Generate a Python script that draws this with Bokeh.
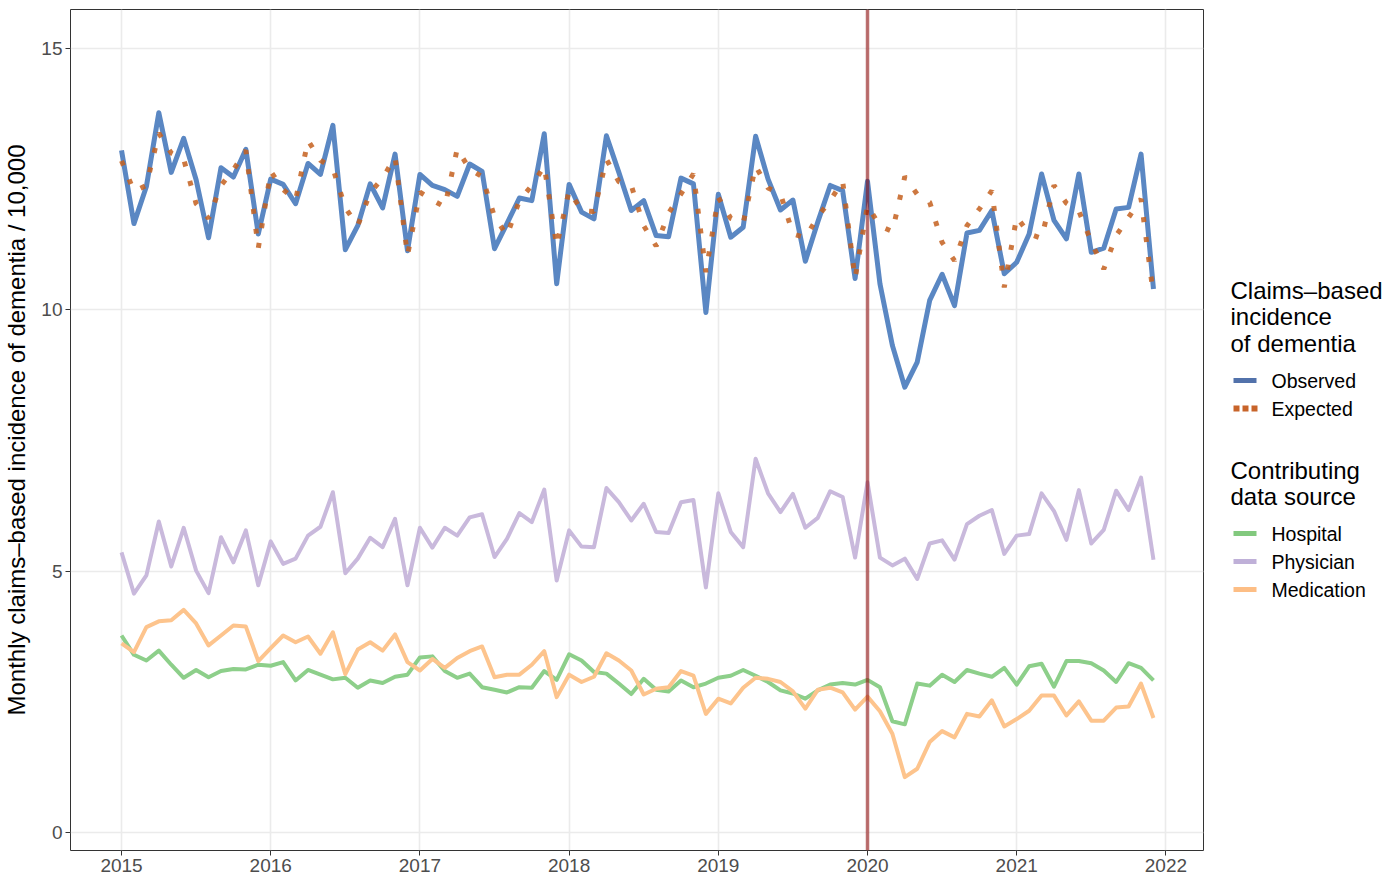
from bokeh.plotting import figure
from bokeh.models import Range1d, FixedTicker, Span
from bokeh.layouts import row
from bokeh.core.properties import value
from bokeh.embed import file_html
from bokeh.resources import INLINE

# ---------------- data (monthly, Jan 2015 - Dec 2021) ----------------
years = [2015, 2016, 2017, 2018, 2019, 2020, 2021]
month_x = [y + m / 12 for y in years for m in range(12)]

observed = [
    13.05, 11.65, 12.36, 13.77, 12.63, 13.28, 12.49, 11.38, 12.72, 12.54, 13.07, 11.45,
    12.50, 12.40, 12.03, 12.80, 12.59, 13.53, 11.15, 11.61, 12.41, 11.95, 12.98, 11.13,
    12.59, 12.38, 12.30, 12.17, 12.79, 12.65, 11.17, 11.65, 12.14, 12.09, 13.37, 10.50,
    12.40, 11.87, 11.74, 13.33, 12.63, 11.90, 12.09, 11.42, 11.40, 12.52, 12.41, 9.95,
    12.21, 11.39, 11.58, 13.32, 12.50, 11.91, 12.10, 10.93, 11.68, 12.38, 12.28, 10.60,
    12.46, 10.50, 9.32, 8.52, 9.00, 10.18, 10.68, 10.08, 11.47, 11.52, 11.90, 10.69,
    10.91, 11.45, 12.60, 11.71, 11.36, 12.60, 11.10, 11.18, 11.93, 11.96, 12.98, 10.40,
]
expected = [
    12.85, 12.27, 12.38, 13.38, 13.00, 12.88, 12.03, 11.75, 12.38, 12.68, 13.05, 11.18,
    12.65, 12.30, 12.10, 13.24, 12.86, 12.71, 11.95, 11.61, 12.24, 12.52, 12.92, 11.04,
    12.25, 12.10, 11.97, 13.08, 12.69, 12.55, 11.78, 11.42, 12.09, 12.38, 12.75, 11.22,
    12.28, 11.90, 11.88, 12.88, 12.45, 12.38, 11.61, 11.22, 11.85, 12.22, 12.60, 10.72,
    12.15, 11.75, 11.66, 12.75, 12.33, 12.22, 11.45, 11.38, 11.78, 12.09, 12.46, 10.60,
    12.00, 11.60, 11.50, 12.55, 12.21, 12.06, 11.29, 10.94, 11.61, 11.93, 12.28, 10.43,
    11.78, 11.45, 11.37, 12.38, 12.04, 11.89, 11.30, 10.78, 11.42, 11.77, 12.12, 10.27,
]
physician = [
    5.36, 4.57, 4.92, 5.95, 5.09, 5.83, 5.01, 4.58, 5.65, 5.17, 5.78, 4.73,
    5.57, 5.14, 5.24, 5.68, 5.85, 6.51, 4.96, 5.24, 5.64, 5.46, 6.00, 4.73,
    5.83, 5.45, 5.83, 5.68, 6.03, 6.09, 5.27, 5.62, 6.11, 5.94, 6.56, 4.82,
    5.78, 5.47, 5.46, 6.59, 6.32, 5.97, 6.29, 5.75, 5.73, 6.32, 6.36, 4.69,
    6.49, 5.75, 5.46, 7.15, 6.49, 6.13, 6.48, 5.83, 6.02, 6.53, 6.42, 5.26,
    6.70, 5.26, 5.11, 5.24, 4.85, 5.53, 5.59, 5.22, 5.90, 6.06, 6.17, 5.33,
    5.68, 5.71, 6.49, 6.15, 5.60, 6.55, 5.53, 5.79, 6.54, 6.17, 6.79, 5.22,
]
hospital = [
    3.77, 3.40, 3.29, 3.48, 3.21, 2.96, 3.11, 2.97, 3.09, 3.13, 3.12, 3.21,
    3.19, 3.26, 2.91, 3.11, 3.02, 2.93, 2.96, 2.77, 2.91, 2.86, 2.98, 3.02,
    3.35, 3.37, 3.09, 2.96, 3.04, 2.78, 2.73, 2.68, 2.78, 2.77, 3.09, 2.92,
    3.41, 3.29, 3.07, 3.04, 2.85, 2.65, 2.94, 2.73, 2.70, 2.91, 2.78, 2.85,
    2.96, 3.00, 3.11, 3.00, 2.88, 2.72, 2.66, 2.56, 2.72, 2.83, 2.86, 2.83,
    2.92, 2.78, 2.13, 2.07, 2.85, 2.81, 3.02, 2.88, 3.11, 3.04, 2.98, 3.15,
    2.83, 3.18, 3.23, 2.79, 3.28, 3.28, 3.24, 3.10, 2.88, 3.24, 3.15, 2.91,
]
medication = [
    3.62, 3.45, 3.93, 4.04, 4.06, 4.26, 4.00, 3.58, 3.77, 3.96, 3.94, 3.28,
    3.53, 3.77, 3.64, 3.75, 3.42, 3.83, 3.03, 3.50, 3.64, 3.48, 3.79, 3.26,
    3.10, 3.32, 3.15, 3.34, 3.47, 3.56, 2.97, 3.02, 3.02, 3.21, 3.47, 2.59,
    3.02, 2.88, 2.98, 3.43, 3.29, 3.10, 2.64, 2.75, 2.78, 3.09, 3.00, 2.27,
    2.56, 2.47, 2.77, 2.96, 2.94, 2.88, 2.70, 2.37, 2.73, 2.77, 2.68, 2.35,
    2.60, 2.32, 1.89, 1.06, 1.22, 1.73, 1.94, 1.82, 2.27, 2.22, 2.53, 2.03,
    2.17, 2.33, 2.62, 2.62, 2.24, 2.51, 2.14, 2.14, 2.39, 2.41, 2.85, 2.19,
]
x_ticks = [2015, 2016, 2017, 2018, 2019, 2020, 2021, 2022]
y_ticks = [0, 5, 10, 15]
intervention_year = 2020

legend1_title = ["Claims\u2013based", "incidence", "of dementia"]
legend1_labels = ["Observed", "Expected"]
legend2_title = ["Contributing", "data source"]
legend2_labels = ["Hospital", "Physician", "Medication"]
y_label = "Monthly claims\u2013based incidence of dementia / 10,000"

FONT = "Liberation Sans"
C_OBS, C_OBS_KEY = "#5A87C3", "#5272AB"
C_EXP, C_EXP_KEY = "#C4601F", "#C8642A"
C_HOS, C_HOS_KEY = "#8DCF8A", "#82C97E"
C_PHY, C_PHY_KEY = "#C9B9DC", "#BFB0D8"
C_MED, C_MED_KEY = "#FDC48D", "#FDBE85"

TOTAL_W, TOTAL_H = 1384, 880
MAIN_W = 1205
B_TOP, B_BOTTOM = 9, 30

# ---------------- main plot ----------------
p = figure(width=MAIN_W, height=TOTAL_H, output_backend="svg", toolbar_location=None,
           x_range=Range1d(2014.658, 2022.252), y_range=Range1d(-0.344, 15.746),
           min_border_left=70, min_border_right=2, min_border_top=B_TOP,
           min_border_bottom=B_BOTTOM)
p.background_fill_color = "white"
p.border_fill_color = "white"
p.outline_line_color = "#333333"
p.outline_line_width = 1

p.xaxis.ticker = FixedTicker(ticks=x_ticks)
p.yaxis.ticker = FixedTicker(ticks=y_ticks)
p.xaxis.major_label_overrides = {t: str(t) for t in x_ticks}
p.xgrid.ticker = FixedTicker(ticks=x_ticks)
p.ygrid.ticker = FixedTicker(ticks=y_ticks)
for g in (p.xgrid, p.ygrid):
    g.grid_line_color = "#EBEBEB"
    g.grid_line_width = 1.6
for ax in (p.xaxis, p.yaxis):
    ax.axis_line_color = None
    ax.major_tick_line_color = "#333333"
    ax.major_tick_line_width = 1
    ax.major_tick_out = 5
    ax.major_tick_in = 0
    ax.minor_tick_line_color = None
    ax.major_label_text_color = "#4D4D4D"
    ax.major_label_text_font = FONT
    ax.major_label_text_font_size = "19px"
    ax.major_label_standoff = 3
p.yaxis.axis_label = y_label
p.yaxis.axis_label_text_font = FONT
p.yaxis.axis_label_text_font_size = "24px"
p.yaxis.axis_label_text_font_style = "normal"
p.yaxis.axis_label_text_color = "black"
p.yaxis.axis_label_standoff = 8

p.line(month_x, hospital, line_color=C_HOS, line_width=4, line_join="round")
p.line(month_x, physician, line_color=C_PHY, line_width=4, line_join="round")
p.line(month_x, medication, line_color=C_MED, line_width=4, line_join="round")
p.line(month_x, observed, line_color=C_OBS, line_width=5, line_join="round")
p.line(month_x, expected, line_color=C_EXP, line_alpha=0.85, line_width=5,
       line_dash="5 15", line_cap="butt")
p.add_layout(Span(location=intervention_year, dimension="height",
                  line_color="#8B0000", line_alpha=0.55, line_width=3.5))

# ---------------- legend panel (coordinates = page pixels) ----------------
L = figure(width=TOTAL_W - MAIN_W, height=TOTAL_H, output_backend="svg",
           toolbar_location=None,
           x_range=Range1d(MAIN_W, TOTAL_W), y_range=Range1d(TOTAL_H - B_BOTTOM, B_TOP),
           min_border_left=0, min_border_right=0,
           min_border_top=B_TOP, min_border_bottom=B_BOTTOM)
L.axis.visible = False
L.grid.visible = False
L.outline_line_color = None
L.background_fill_color = "white"
L.border_fill_color = "white"

def txt(xs, ys, labels, size):
    L.text(x=xs, y=ys, text=labels, text_font=value(FONT), text_font_size=size,
           text_baseline="middle", text_align="left", text_color="black")

txt([1230] * 3, [290, 316, 343], legend1_title, "24px")
txt([1271] * 2, [380, 408], legend1_labels, "19.5px")
L.line([1233, 1256], [380, 380], line_color=C_OBS_KEY, line_width=5)
L.line([1233, 1257], [408, 408], line_color=C_EXP_KEY, line_width=6,
       line_dash="6 3", line_cap="butt")

txt([1230] * 2, [470, 496], legend2_title, "24px")
txt([1271] * 3, [533, 561, 589], legend2_labels, "19.5px")
for yy, c in zip([533, 561, 589], [C_HOS_KEY, C_PHY_KEY, C_MED_KEY]):
    L.line([1233, 1256], [yy, yy], line_color=c, line_width=5)

layout = row(p, L)
open("out.html", "w").write(file_html(layout, INLINE))
